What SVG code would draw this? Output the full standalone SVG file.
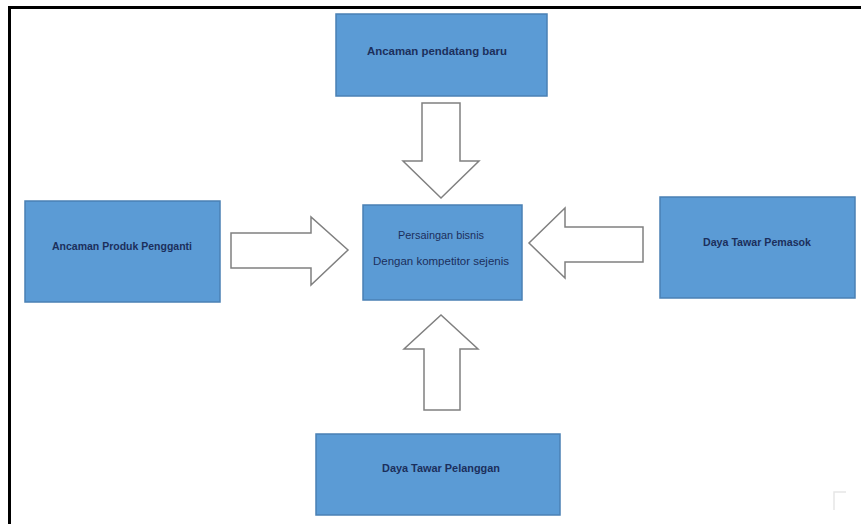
<svg xmlns="http://www.w3.org/2000/svg" width="861" height="524" viewBox="0 0 861 524">
<style>
.box{fill:#5B9BD5;stroke:#4A80B4;stroke-width:1.5}
.lbl{font-family:"Liberation Sans",Arial,sans-serif;font-size:10px;font-weight:bold;fill:#1B2F5C;text-anchor:middle;dominant-baseline:middle}
.arr{fill:#FFFFFF;stroke:#808080;stroke-width:1.5;stroke-linejoin:miter}
</style>
<rect x="0" y="0" width="861" height="524" fill="#FFFFFF"/>
<path d="M9.5,524 V7.5 H861" fill="none" stroke="#000000" stroke-width="3"/>
<g id="node-pendatang">
<rect class="box" x="336" y="14" width="211" height="82"/>
<text class="lbl" x="437" y="52" textLength="140" lengthAdjust="spacingAndGlyphs">Ancaman pendatang baru</text>
</g>
<g id="node-produk">
<rect class="box" x="25" y="201" width="195" height="101"/>
<text class="lbl" x="122" y="247" textLength="140" lengthAdjust="spacingAndGlyphs">Ancaman Produk Pengganti</text>
</g>
<g id="node-persaingan">
<rect class="box" x="363" y="205" width="159" height="95"/>
<text class="lbl" x="441" y="236" textLength="86" lengthAdjust="spacingAndGlyphs" style="font-weight:normal">Persaingan bisnis</text>
<text class="lbl" x="441" y="262" textLength="136" lengthAdjust="spacingAndGlyphs" style="font-weight:normal">Dengan kompetitor sejenis</text>
</g>
<g id="node-pemasok">
<rect class="box" x="660" y="197" width="195" height="101"/>
<text class="lbl" x="757" y="243" textLength="108" lengthAdjust="spacingAndGlyphs">Daya Tawar Pemasok</text>
</g>
<g id="node-pelanggan">
<rect class="box" x="316" y="434" width="244" height="81"/>
<text class="lbl" x="441" y="469" textLength="118" lengthAdjust="spacingAndGlyphs">Daya Tawar Pelanggan</text>
</g>
<g id="connectors">
<polygon class="arr" points="422,103 460,103 460,161 479,161 441,198 403,161 422,161"/>
<polygon class="arr" points="231,233 311,233 311,217 348,250 311,285 311,268 231,268"/>
<polygon class="arr" points="643,227 565,227 565,208 529,243 565,278 565,262 643,262"/>
<polygon class="arr" points="424,410 460,410 460,349 478,349 441,315 404,349 424,349"/>
</g>
<path d="M834,510 V492 H846" fill="none" stroke="#E6E6E6" stroke-width="1.5"/>
</svg>
